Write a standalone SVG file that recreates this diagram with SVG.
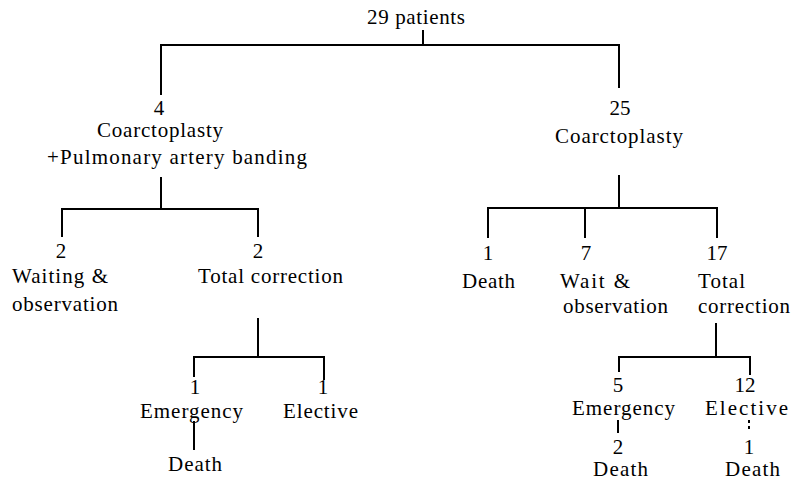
<svg xmlns="http://www.w3.org/2000/svg" width="797" height="480" viewBox="0 0 797 480">
<style>
.t text{font-size:21px;fill:#000}
.n{text-anchor:middle}
.c{fill:none;stroke:#000;stroke-width:2}
.d{stroke-dasharray:3 3}
</style>
<rect width="797" height="480" fill="#fff"/>
<g id="connectors">
<path class="c" d="M423,30V45M161,95V45H619V88"/>
<path class="c" d="M161,177V209M62,237V209H258V237"/>
<path class="c" d="M619,175V208M488,238V208H717V238M585,208V238"/>
<path class="c" d="M258,318V357M194,377V357H324V380"/>
<path class="c" d="M194,421V450"/>
<path class="c" d="M716,323V357M619,372V357H750V375"/>
<path class="c" d="M618,420V433"/>
<path class="c d" d="M749,420V432"/>
</g>
<g class="t" font-family="Liberation Serif, DejaVu Serif, Times New Roman, serif">
<g id="root"><text x="367" y="24" textLength="98" lengthAdjust="spacing">29 patients</text></g>
<g id="n4"><text class="n" x="159" y="115">4</text>
<text x="97" y="137" textLength="126" lengthAdjust="spacing">Coarctoplasty</text>
<text x="47" y="164" textLength="260" lengthAdjust="spacing">+Pulmonary artery banding</text></g>
<g id="n25"><text class="n" x="620" y="115">25</text>
<text x="555" y="143" textLength="128" lengthAdjust="spacing">Coarctoplasty</text></g>
<g id="nWaitL"><text class="n" x="61" y="258">2</text>
<text x="12" y="283" textLength="96" lengthAdjust="spacing">Waiting &amp;</text>
<text x="12" y="311" textLength="106" lengthAdjust="spacing">observation</text></g>
<g id="nTotalL"><text class="n" x="258" y="258">2</text>
<text x="198" y="283" textLength="145" lengthAdjust="spacing">Total correction</text></g>
<g id="nEmergL"><text class="n" x="195" y="394">1</text>
<text x="140" y="418" textLength="103" lengthAdjust="spacing">Emergency</text></g>
<g id="nElectL"><text class="n" x="323" y="394">1</text>
<text x="283" y="418" textLength="75" lengthAdjust="spacing">Elective</text></g>
<g id="nDeathL"><text x="168" y="471" textLength="54" lengthAdjust="spacing">Death</text></g>
<g id="nDeath1"><text class="n" x="488" y="260">1</text>
<text x="462" y="288" textLength="53" lengthAdjust="spacing">Death</text></g>
<g id="nWaitR"><text class="n" x="586" y="260">7</text>
<text x="560" y="288" textLength="70" lengthAdjust="spacing">Wait  &amp;</text>
<text x="563" y="313" textLength="105" lengthAdjust="spacing">observation</text></g>
<g id="nTotalR"><text class="n" x="717" y="260">17</text>
<text x="698" y="288" textLength="47" lengthAdjust="spacing">Total</text>
<text x="698" y="313" textLength="92" lengthAdjust="spacing">correction</text></g>
<g id="nEmergR"><text class="n" x="618" y="392">5</text>
<text x="572" y="415" textLength="103" lengthAdjust="spacing">Emergency</text></g>
<g id="nElectR"><text class="n" x="745" y="392">12</text>
<text x="705" y="415" textLength="83" lengthAdjust="spacing">Elective</text></g>
<g id="nDeathR1"><text class="n" x="618" y="454">2</text>
<text x="593" y="476" textLength="55" lengthAdjust="spacing">Death</text></g>
<g id="nDeathR2"><text class="n" x="749" y="454">1</text>
<text x="725" y="476" textLength="55" lengthAdjust="spacing">Death</text></g>
</g>
</svg>
